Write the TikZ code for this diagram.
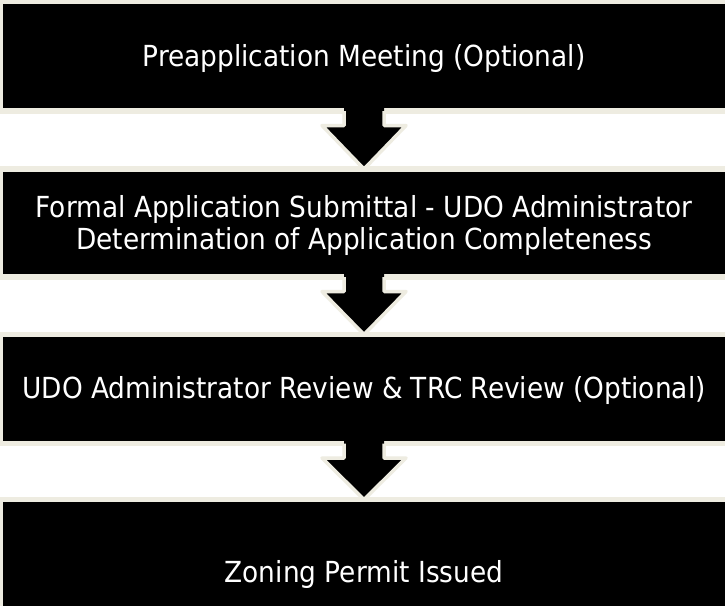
\documentclass[tikz,border=0pt]{standalone}
\usepackage{fontspec}
\setmainfont{DejaVu Sans}[FakeStretch=0.91]
\usetikzlibrary{calc}
\definecolor{cream}{HTML}{EEECE1}
\tikzset{
  stagebox/.style={rectangle, fill=black, draw=cream, line width=5.5pt, outer sep=0pt,
    inner sep=0pt, minimum width=728pt},
  stagetext/.style={text=white, align=center, inner sep=0pt,
    font=\fontsize{29}{32}\selectfont},
  arrowfill/.style={fill=black},
  arrowline/.style={draw=cream, line width=3.5pt, line join=round}
}
\newcommand{\downarrowblock}[2]{%
  \fill[arrowfill] ($(#1.south)+(-20,-8)$) -- ($(#1.south)+(-20,14.5)$) -- ($(#1.south)+(-42,14.5)$)
    -- (#2.north) -- ($(#1.south)+(42,14.5)$) -- ($(#1.south)+(20,14.5)$) -- ($(#1.south)+(20,-8)$) -- cycle;
  \draw[arrowline] ($(#1.south)+(-20,0)$) -- ($(#1.south)+(-20,14.5)$) -- ($(#1.south)+(-42,14.5)$)
    -- (#2.north) -- ($(#1.south)+(42,14.5)$) -- ($(#1.south)+(20,14.5)$) -- ($(#1.south)+(20,0)$);
}
\begin{document}
\begin{tikzpicture}[x=1pt,y=-1pt]
\useasboundingbox (0,0) rectangle (725,605);
\clip (0,0) rectangle (725,605);
\fill[white] (0,0) rectangle (725,605);
\node[stagebox, minimum height=109.5pt] (b1) at (364,56.25) {};
\node[stagebox, minimum height=108pt] (b2) at (364,223) {};
\node[stagebox, minimum height=109pt] (b3) at (364,389) {};
\node[stagebox, minimum height=147pt] (b4) at (364,573) {};
\node[stagetext] (t1) at ($(b1.center)+(0,2.5)$) {Preapplication Meeting (Optional)};
\node[stagetext] (t2) at ($(b2.center)+(0,2.5)$) {Formal Application Submittal - UDO Administrator\\Determination of Application Completeness};
\node[stagetext] (t3) at ($(b3.center)+(0,1.5)$) {UDO Administrator Review \& TRC Review (Optional)};
\node[stagetext] (t4) at ($(b4.center)+(0,1.5)$) {Zoning Permit Issued};
\downarrowblock{b1}{b2}
\downarrowblock{b2}{b3}
\downarrowblock{b3}{b4}
\end{tikzpicture}
\end{document}
